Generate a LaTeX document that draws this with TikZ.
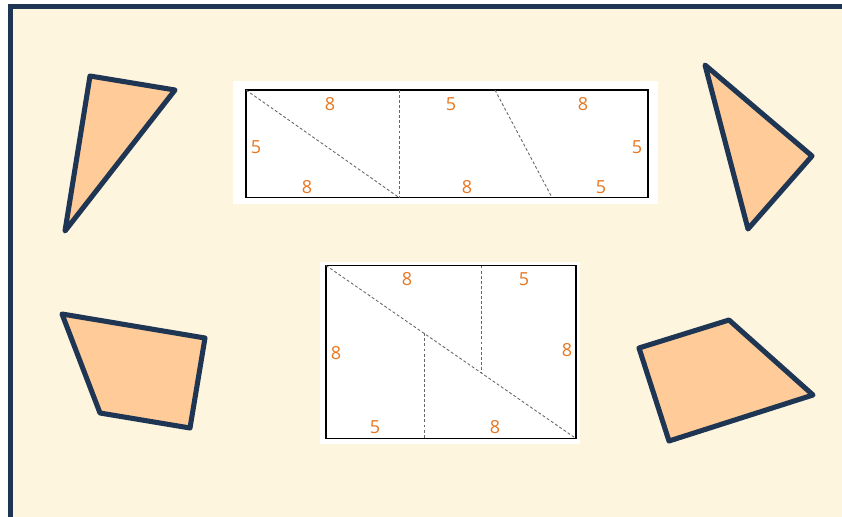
\documentclass[tikz,border=0pt]{standalone}
\usepackage{fontspec}
\setmainfont{Open Sans}
\definecolor{cream}{HTML}{FEF5DF}
\definecolor{navy}{HTML}{1E3553}
\definecolor{peach}{HTML}{FFCC99}
\definecolor{lbl}{HTML}{E8761E}
\tikzset{
  piece/.style={draw=navy, fill=peach, line width=3.8pt, line join=round, line cap=round},
  sheet/.style={draw=black, fill=white, line width=1.1pt},
  cut/.style={draw=black!60, line width=0.65pt, dash pattern=on 2.2pt off 1.6pt},
  num/.style={text=lbl, font=\fontsize{13.5}{13.5}\selectfont, inner sep=0pt}
}
\begin{document}
\begin{tikzpicture}[x=0.75pt,y=-0.75pt]
\useasboundingbox (0,0) rectangle (842,517);
\fill[white] (0,0) rectangle (842,517);
\begin{scope}
\clip (0,0) rectangle (842,517);
\draw[navy, fill=cream, line width=3.75pt] (10.5,6.5) rectangle (870,540);
\end{scope}
% pieces
\draw[piece] (90,76) -- (175,90) -- (65,231) -- cycle;
\draw[piece] (705,65) -- (812,156) -- (748,229) -- cycle;
\draw[piece] (62,314) -- (205,338) -- (190,428) -- (100,413) -- cycle;
\draw[piece] (639,348) -- (729,320) -- (813,395) -- (669,441) -- cycle;
% top sheet
\fill[white] (233,81) rectangle (658,204);
\draw[sheet, fill=none] (246,90) rectangle (648,197.5);
\coordinate (tA) at (246,90);
\coordinate (tB) at (399,197.5);
\coordinate (tC) at (399,90);
\coordinate (tD) at (495,90);
\coordinate (tE) at (552,197.5);
\draw[cut] (tA) -- (tB);
\draw[cut] (tC) -- (tB);
\draw[cut] (tD) -- (tE);
\node[num] (t1) at (330,104) {8};
\node[num] (t2) at (256,147) {5};
\node[num] (t3) at (307,187) {8};
\node[num] (t4) at (451,104) {5};
\node[num] (t5) at (467,187) {8};
\node[num] (t6) at (583,104) {8};
\node[num] (t7) at (637,147) {5};
\node[num] (t8) at (601,187) {5};
% bottom sheet
\fill[white] (320,262) rectangle (580,444);
\draw[sheet, fill=none] (326,265.5) rectangle (576,438.5);
\coordinate (bA) at (326,265.5);
\coordinate (bB) at (576,438.5);
\coordinate (bC) at (481,265.5);
\coordinate (bD) at (481,372.8);
\coordinate (bE) at (424,333.3);
\coordinate (bF) at (424,438.5);
\draw[cut] (bA) -- (bB);
\draw[cut] (bC) -- (bD);
\draw[cut] (bE) -- (bF);
\node[num] (b1) at (407,279) {8};
\node[num] (b2) at (524,279) {5};
\node[num] (b3) at (336,353) {8};
\node[num] (b4) at (567,350) {8};
\node[num] (b5) at (375,427) {5};
\node[num] (b6) at (495,427) {8};
\end{tikzpicture}
\end{document}
